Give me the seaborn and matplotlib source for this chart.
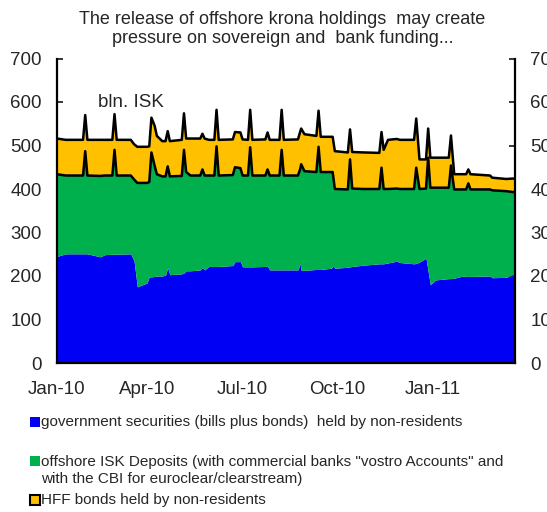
import matplotlib
matplotlib.use('Agg')
import matplotlib.pyplot as plt
import numpy as np
import pandas as pd
import seaborn as sns
from matplotlib.patches import Rectangle

# bln. ISK
dates = ['2010-01-01', '2010-01-09', '2010-01-25', '2010-01-27', '2010-01-29',
         '2010-02-10', '2010-02-14', '2010-02-21', '2010-02-23', '2010-02-25',
         '2010-03-10', '2010-03-13', '2010-03-16', '2010-03-25', '2010-03-27',
         '2010-03-29', '2010-04-01', '2010-04-03', '2010-04-08', '2010-04-11',
         '2010-04-13', '2010-04-15', '2010-04-26', '2010-04-28', '2010-04-30',
         '2010-05-04', '2010-05-13', '2010-05-15', '2010-05-17', '2010-05-21',
         '2010-05-26', '2010-05-28', '2010-05-30', '2010-06-12', '2010-06-14',
         '2010-06-19', '2010-06-21', '2010-06-26', '2010-06-28', '2010-06-30',
         '2010-07-12', '2010-07-14', '2010-07-16', '2010-07-25', '2010-07-27',
         '2010-07-29', '2010-08-11', '2010-08-13', '2010-08-14', '2010-08-17',
         '2010-08-28', '2010-08-30', '2010-09-01', '2010-09-11', '2010-09-12',
         '2010-09-14', '2010-09-26', '2010-09-28', '2010-09-30', '2010-10-11',
         '2010-10-25', '2010-10-27', '2010-10-29', '2010-11-02', '2010-11-10',
         '2010-11-13', '2010-11-26', '2010-11-28', '2010-12-01', '2010-12-07',
         '2010-12-09', '2010-12-11', '2010-12-16', '2010-12-28', '2010-12-30',
         '2011-01-02', '2011-01-10', '2011-01-13', '2011-01-15', '2011-01-17',
         '2011-02-04', '2011-02-06', '2011-02-19', '2011-02-25', '2011-02-27']

gov_securities = [245, 251, 251, 251, 251, 244, 249, 250, 250, 250,
                  251, 235, 175, 184, 198, 198, 199, 200, 200, 202,
                  219, 203, 205, 207, 212, 212, 214, 220, 214, 222,
                  222, 222, 222, 224, 233, 233, 221, 221, 221, 221,
                  222, 222, 214, 214, 214, 214, 214, 228, 213, 213,
                  215, 215, 215, 218, 224, 218, 220, 221, 222, 225,
                  228, 228, 228, 230, 234, 231, 228, 229, 232, 241,
                  210, 180, 191, 194, 194, 195, 200, 199, 199, 199,
                  200, 196, 197, 203, 203]

offshore_deposits = [189, 180, 180, 236, 180, 186, 182, 181, 240, 181,
                     180, 187, 239, 230, 218, 286, 254, 234, 229, 227,
                     233, 226, 225, 283, 227, 219, 217, 225, 217, 209,
                     209, 276, 209, 208, 217, 215, 210, 210, 275, 210,
                     209, 223, 217, 217, 276, 217, 217, 217, 244, 228,
                     224, 282, 224, 221, 215, 182, 179, 247, 179, 175,
                     172, 221, 172, 170, 167, 169, 172, 220, 168, 160,
                     262, 223, 212, 209, 260, 204, 199, 200, 214, 200,
                     199, 201, 198, 190, 190]

hff_bonds = [82, 82, 82, 83, 82, 83, 82, 82, 82, 82,
             82, 81, 83, 83, 82, 80, 92, 88, 81, 81,
             81, 81, 83, 84, 77, 85, 85, 82, 85, 82,
             82, 84, 82, 82, 81, 82, 83, 82, 86, 82,
             83, 85, 82, 82, 92, 82, 83, 86, 82, 85,
             83, 83, 81, 81, 81, 87, 85, 69, 84, 84,
             83, 82, 90, 113, 114, 113, 113, 113, 68, 67,
             67, 69, 69, 69, 69, 35, 35, 35, 32, 35,
             32, 29, 28, 31, 31]

labels = ['government securities (bills plus bonds)  held by non-residents',
          'offshore ISK Deposits (with commercial banks "vostro Accounts" and\n'
          'with the CBI for euroclear/clearstream)',
          'HFF bonds held by non-residents']
colors = ['#0000F5', '#00B04C', '#FFC000']

tick_dates = ['2010-01-01', '2010-04-01', '2010-07-01', '2010-10-01', '2011-01-01']
label_dates = ['2010-01-01', '2010-03-25', '2010-06-21', '2010-09-16', '2010-12-13']
tick_labels = ['Jan-10', 'Apr-10', 'Jul-10', 'Oct-10', 'Jan-11']

df = pd.DataFrame({'date': pd.to_datetime(dates),
                   'gov': gov_securities,
                   'dep': offshore_deposits,
                   'hff': hff_bonds})
df['green_top'] = df['gov'] + df['dep']
df['total'] = df['green_top'] + df['hff']

sns.set_style('ticks')
plt.rcParams['font.family'] = ['Liberation Sans', 'DejaVu Sans']

fig = plt.figure(figsize=(5.47, 5.12), dpi=100)
ax = fig.add_axes([57 / 547, 1 - 363 / 512, 458 / 547, 304.5 / 512])

ax.stackplot(df['date'], df['gov'], df['dep'], df['hff'],
             colors=colors, linewidth=0)
sns.lineplot(data=df, x='date', y='green_top', ax=ax, color='black',
             linewidth=1.8, zorder=3)
sns.lineplot(data=df, x='date', y='total', ax=ax, color='black',
             linewidth=1.8, zorder=3)

ax.set_xlim(pd.Timestamp('2010-01-01'), pd.Timestamp('2011-02-27'))
ax.set_ylim(0, 700)
ax.set_yticks(np.arange(0, 701, 100))
ax.set_xlabel('')
ax.set_ylabel('')

ax.xaxis.remove_overlapping_locs = False
ax.set_xticks(pd.to_datetime(tick_dates))
ax.set_xticklabels([])
ax.set_xticks(pd.to_datetime(label_dates), minor=True)
ax.set_xticklabels(tick_labels, minor=True)
ax.tick_params(axis='x', which='major', direction='in', length=4.5, width=1.3)
ax.tick_params(axis='x', which='minor', length=0, pad=13, labelsize=13.5)
ax.tick_params(axis='y', direction='in', length=4.5, width=1.3, left=True,
               right=True, labelleft=True, labelright=True, pad=11,
               labelsize=13.5)

sns.despine(ax=ax, top=True, right=False)
for side in ['left', 'right', 'bottom']:
    ax.spines[side].set_linewidth(1.6)
    ax.spines[side].set_color('black')

ax.text(0.09, 0.857, 'bln. ISK', transform=ax.transAxes, fontsize=13.5,
        va='center', ha='left')

fig.text(0.516, 0.943, 'The release of offshore krona holdings  may create\n'
         'pressure on sovereign and  bank funding...', ha='center',
         va='center', fontsize=13, linespacing=1.2)

# legend below the chart
sq_y = [1 - 427 / 512, 1 - 466 / 512, 1 - 505 / 512]
txt_y = [1 - 422 / 512, 1 - 470.5 / 512, 1 - 500 / 512]
for i in range(3):
    edge = 'black' if i == 2 else colors[i]
    fig.add_artist(Rectangle((30 / 547, sq_y[i]), 10 / 547, 10 / 512,
                             transform=fig.transFigure, facecolor=colors[i],
                             edgecolor=edge, linewidth=1.5 if i == 2 else 0))
    fig.text(41 / 547, txt_y[i], labels[i], ha='left', va='center',
             fontsize=11, linespacing=1.25)

fig.savefig('out.png', dpi=100)
